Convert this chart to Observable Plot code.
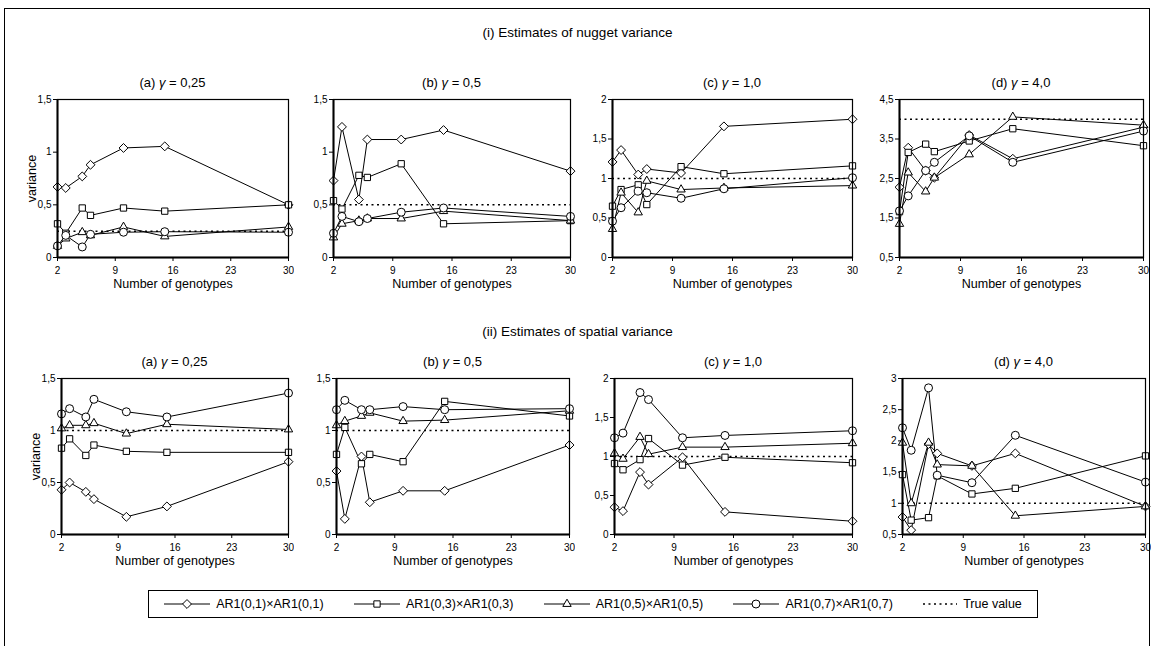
<!DOCTYPE html>
<html>
<head>
<meta charset="utf-8">
<script src="https://cdn.jsdelivr.net/npm/d3@7"></script>
<script src="https://cdn.jsdelivr.net/npm/@observablehq/plot@0.6"></script>
<style>
  body { margin: 0; background: white; font-family: "Liberation Sans", Arial, sans-serif; }
  #root { position: relative; width: 1155px; height: 646px; overflow: hidden; }
  .abs { position: absolute; }
  .sect { font-size: 13.5px; text-align: center; }
  .ptitle { font-size: 13px; text-align: center; }
  #legend { display: flex; align-items: center; justify-content: space-around; font-size: 12.5px; border: 1px solid black; box-sizing: border-box; }
  .lg { display: flex; align-items: center; gap: 6px; }
</style>
</head>
<body>
<div id="root"></div>
<script>
// ---- data ----
const genotypes = [2, 3, 5, 6, 10, 15, 30];
const seriesNames = ["AR1(0,1)×AR1(0,1)", "AR1(0,3)×AR1(0,3)", "AR1(0,5)×AR1(0,5)", "AR1(0,7)×AR1(0,7)"];
const seriesSymbols = ["diamond2", "square2", "triangle2", "circle"];
const xTicks = [2, 9, 16, 23, 30];
const sectionTitles = ["(i) Estimates of nugget variance", "(ii) Estimates of spatial variance"];
const gammaLabels = ["(a) γ = 0,25", "(b) γ = 0,5", "(c) γ = 1,0", "(d) γ = 4,0"];

// nugget variance: rows = AR1(0.1), AR1(0.3), AR1(0.5), AR1(0.7)
const nuggetA = [
  [0.67, 0.66, 0.77, 0.88, 1.04, 1.055, 0.50],
  [0.32, 0.23, 0.47, 0.40, 0.47, 0.44, 0.50],
  [0.11, 0.18, 0.24, 0.21, 0.29, 0.20, 0.29],
  [0.11, 0.21, 0.10, 0.22, 0.24, 0.245, 0.24]
];
const nuggetB = [
  [0.73, 1.24, 0.55, 1.12, 1.12, 1.21, 0.82],
  [0.54, 0.46, 0.78, 0.76, 0.89, 0.32, 0.35],
  [0.19, 0.32, 0.35, 0.37, 0.37, 0.44, 0.35],
  [0.23, 0.39, 0.34, 0.37, 0.43, 0.47, 0.39]
];
const nuggetC = [
  [1.21, 1.36, 1.05, 1.12, 1.07, 1.66, 1.75],
  [0.65, 0.86, 0.92, 0.67, 1.15, 1.06, 1.16],
  [0.36, 0.82, 0.57, 0.97, 0.86, 0.88, 0.91],
  [0.46, 0.63, 0.84, 0.82, 0.75, 0.87, 1.01]
];
const nuggetD = [
  [2.28, 3.28, 2.70, 2.52, 3.60, 3.00, 3.80],
  [1.66, 3.16, 3.37, 3.18, 3.45, 3.76, 3.33],
  [1.35, 2.65, 2.17, 2.52, 3.11, 4.06, 3.85],
  [1.68, 2.06, 2.70, 2.91, 3.58, 2.91, 3.70]
];
// spatial variance
const spatialA = [
  [0.43, 0.50, 0.41, 0.34, 0.17, 0.27, 0.70],
  [0.83, 0.92, 0.76, 0.86, 0.80, 0.79, 0.79],
  [1.02, 1.05, 1.05, 1.07, 0.97, 1.06, 1.01],
  [1.16, 1.21, 1.13, 1.30, 1.18, 1.13, 1.36]
];
const spatialB = [
  [0.61, 0.15, 0.75, 0.31, 0.42, 0.42, 0.86],
  [0.77, 1.03, 0.68, 0.77, 0.70, 1.28, 1.14],
  [1.05, 1.09, 1.14, 1.17, 1.09, 1.10, 1.19],
  [1.20, 1.29, 1.20, 1.20, 1.23, 1.20, 1.21]
];
const spatialC = [
  [0.35, 0.30, 0.80, 0.64, 0.99, 0.29, 0.17],
  [0.91, 0.83, 0.96, 1.23, 0.89, 0.99, 0.92],
  [1.04, 0.97, 1.25, 1.03, 1.12, 1.12, 1.17],
  [1.24, 1.30, 1.82, 1.73, 1.24, 1.27, 1.33]
];
const spatialD = [
  [0.78, 0.57, 1.95, 1.80, 1.60, 1.80, 0.95],
  [1.46, 0.73, 0.77, 1.44, 1.15, 1.24, 1.76],
  [1.97, 1.00, 1.97, 1.62, 1.60, 0.80, 0.95],
  [2.21, 1.85, 2.85, 1.45, 1.33, 2.09, 1.34]
];
const trueNugget = [0.25, 0.5, 1.0, 4.0];
const trueSpatial = [1.0, 1.0, 1.0, 1.0];
const nuggetDomains = [[0, 1.5], [0, 1.5], [0, 2], [0.5, 4.5]];
const nuggetTicks = [[0, 0.5, 1, 1.5], [0, 0.5, 1, 1.5], [0, 0.5, 1, 1.5, 2], [0.5, 1.5, 2.5, 3.5, 4.5]];
const spatialDomains = [[0, 1.5], [0, 1.5], [0, 2], [0.5, 3]];
const spatialTicks = [[0, 0.5, 1, 1.5], [0, 0.5, 1, 1.5], [0, 0.5, 1, 1.5, 2], [0.5, 1, 1.5, 2, 2.5, 3]];

// ---- layout ----
const root = document.getElementById("root");
const fmt = d => String(d).replace(".", ",");

function addDiv(cls, html, css) {
  const el = document.createElement("div");
  el.className = "abs " + cls;
  el.innerHTML = html;
  Object.assign(el.style, css);
  root.appendChild(el);
  return el;
}

// outer frame
addDiv("", "", {left: "4px", top: "8px", width: "1146px", height: "650px", border: "1.5px solid black", boxSizing: "border-box"});

function panel(values, truth, domain, ticks, px, py, pw, ph, title, ylabel) {
  const data = values.flatMap((arr, s) => arr.map((v, i) => ({x: genotypes[i], y: v, s})));
  const ml = ylabel ? 50 : 30, mr = 6, mt = 4, mb = 40;
  const chart = Plot.plot({
    width: pw + ml + mr,
    height: ph + mt + mb,
    marginLeft: ml, marginRight: mr, marginTop: mt, marginBottom: mb,
    style: {background: "transparent", fontFamily: "Liberation Sans, Arial, sans-serif", fontSize: "10px", color: "black"},
    x: {domain: [2, 30], ticks: xTicks, tickSize: 4, tickPadding: 5, label: "Number of genotypes", labelAnchor: "center", labelOffset: 30, labelArrow: "none"},
    y: {domain, ticks, tickFormat: fmt, tickSize: 4, tickPadding: 2, label: ylabel ? "variance" : null, labelAnchor: "center", labelOffset: 30, labelArrow: "none"},
    marks: [
      Plot.ruleY([truth], {stroke: "black", strokeWidth: 1.5, strokeDasharray: "2,3.5"}),
      Plot.line(data, {x: "x", y: "y", z: "s", stroke: "black", strokeWidth: 1}),
      ...seriesSymbols.map((sym, s) =>
        Plot.dot(data.filter(d => d.s === s), {x: "x", y: "y", symbol: sym, r: 4, fill: "white", stroke: "black", strokeWidth: 1})),
      Plot.frame({stroke: "black", strokeWidth: 1.2}),
      Plot.ruleY([domain[0]], {stroke: "black", strokeWidth: 2}),
      Plot.ruleX([2], {stroke: "black", strokeWidth: 2})
    ]
  });
  chart.style.position = "absolute";
  chart.style.left = (px - ml) + "px";
  chart.style.top = (py - mt) + "px";
  chart.querySelectorAll("text").forEach(t => {
    if (t.textContent === "Number of genotypes" || t.textContent === "variance") t.setAttribute("font-size", "12.5");
  });
  root.appendChild(chart);
  addDiv("ptitle", title.replace("γ", "<i>γ</i>"), {left: px + "px", top: (py - 24) + "px", width: pw + "px"});
}

const topX = [[57, 231], [333, 237], [612, 240], [899, 244]];
const botX = [[61, 227], [336, 233], [614, 238], [902, 243]];
const nugget = [nuggetA, nuggetB, nuggetC, nuggetD];
const spatial = [spatialA, spatialB, spatialC, spatialD];

addDiv("sect", sectionTitles[0], {left: "0px", width: "1155px", top: "25px"});
addDiv("sect", sectionTitles[1], {left: "0px", width: "1155px", top: "324px"});

for (let k = 0; k < 4; k++) {
  panel(nugget[k], trueNugget[k], nuggetDomains[k], nuggetTicks[k], topX[k][0], 99, topX[k][1], 158, gammaLabels[k], k === 0);
  panel(spatial[k], trueSpatial[k], spatialDomains[k], spatialTicks[k], botX[k][0], 378, botX[k][1], 156, gammaLabels[k], k === 0);
}

// legend
const symPath = {diamond2: d3.symbolDiamond2, square2: d3.symbolSquare2, triangle2: d3.symbolTriangle2, circle: d3.symbolCircle};
let lg = "";
seriesNames.forEach((name, s) => {
  const p = d3.symbol(symPath[seriesSymbols[s]], Math.PI * 16)();
  lg += `<div class="lg"><svg width="46" height="14"><line x1="0" x2="46" y1="7" y2="7" stroke="black"/><path d="${p}" transform="translate(23,7)" fill="white" stroke="black"/></svg><span>${name}</span></div>`;
});
lg += `<div class="lg"><svg width="34" height="14"><line x1="0" x2="34" y1="7" y2="7" stroke="black" stroke-width="1.5" stroke-dasharray="2,3.5"/></svg><span>True value</span></div>`;
addDiv("", lg, {left: "148px", top: "590px", width: "890px", height: "28px"}).id = "legend";
</script>
</body>
</html>
